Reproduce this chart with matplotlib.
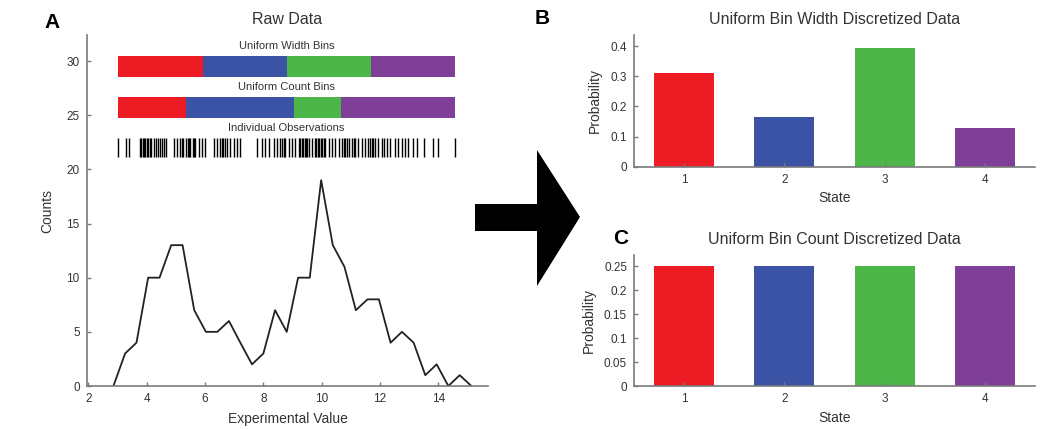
import matplotlib
matplotlib.use("Agg")
import matplotlib.pyplot as plt
from matplotlib.patches import Polygon, Rectangle

plt.rcParams['font.family'] = ['Liberation Sans', 'DejaVu Sans']

# histogram of the raw data (bin centres and counts)
bin_centers = [2.86, 3.26, 3.65, 4.05, 4.44, 4.84, 5.23, 5.63, 6.03, 6.42, 6.82,
               7.21, 7.61, 8.00, 8.40, 8.80, 9.19, 9.59, 9.98, 10.38, 10.78, 11.17,
               11.57, 11.96, 12.36, 12.75, 13.15, 13.55, 13.94, 14.34, 14.73, 15.13]
bin_counts = [0, 3, 4, 10, 10, 13, 13, 7, 5, 5, 6, 4, 2, 3, 7, 5, 10, 10, 19, 13,
              11, 7, 8, 8, 4, 5, 4, 1, 2, 0, 1, 0]

# individual observations
observations = [3.03, 3.28, 3.40, 3.78, 3.82, 3.86, 3.90, 3.95, 4.00, 4.05, 4.10,
                4.15, 4.25, 4.32, 4.38, 4.45, 4.52, 4.60, 4.66, 4.92, 5.03, 5.15,
                5.20, 5.26, 5.35, 5.40, 5.45, 5.49, 5.58, 5.63, 5.67, 5.78, 5.90,
                6.01, 6.30, 6.41, 6.50, 6.58, 6.63, 6.69, 6.75, 6.87, 6.99, 7.10,
                7.19, 7.78, 7.95, 8.07, 8.18, 8.36, 8.47, 8.58, 8.64, 8.70, 8.75,
                8.87, 8.98, 9.10, 9.21, 9.26, 9.31, 9.36, 9.42, 9.46, 9.50, 9.55,
                9.67, 9.78, 9.82, 9.87, 9.92, 9.97, 10.02, 10.07, 10.12, 10.24,
                10.35, 10.47, 10.58, 10.69, 10.75, 10.81, 10.86, 10.92, 11.03,
                11.09, 11.15, 11.26, 11.38, 11.49, 11.60, 11.66, 11.72, 11.77,
                11.83, 11.94, 12.06, 12.14, 12.23, 12.34, 12.51, 12.63, 12.74,
                12.86, 12.97, 13.14, 13.26, 13.49, 13.83, 14.00, 14.56]

# bin edges for the two discretisations
width_edges = [3.03, 5.92, 8.80, 11.69, 14.56]
count_edges = [3.03, 5.35, 9.05, 10.66, 14.56]

states = [1, 2, 3, 4]
prob_width = [0.31, 0.165, 0.395, 0.13]
prob_count = [0.25, 0.25, 0.25, 0.25]

state_colors = ['#ED1C24', '#3A53A4', '#4CB748', '#7F3F98']
spine_col = '#7a7a7a'
text_col = '#333333'


def style_axes(ax):
    for s in ['top', 'right']:
        ax.spines[s].set_visible(False)
    for s in ['left', 'bottom']:
        ax.spines[s].set_color(spine_col)
        ax.spines[s].set_linewidth(1.2)
    ax.tick_params(direction='in', length=3, width=1, color=spine_col,
                   labelcolor=text_col, labelsize=8.5, pad=5)


fig = plt.figure(figsize=(10.59, 4.30), dpi=100)

# ---- panel A ----
axA = fig.add_axes([0.0819, 0.1023, 0.3792, 0.8163])
axA.plot(bin_centers, bin_counts, color='#222222', lw=1.3)

# bin bars
for i in range(4):
    axA.add_patch(Rectangle((width_edges[i], 28.5), width_edges[i + 1] - width_edges[i],
                            1.95, color=state_colors[i], lw=0))
    axA.add_patch(Rectangle((count_edges[i], 24.75), count_edges[i + 1] - count_edges[i],
                            1.94, color=state_colors[i], lw=0))
axA.vlines(observations, 21.13, 22.88, color='black', lw=1)

mid = (width_edges[0] + width_edges[-1]) / 2
axA.text(mid, 31.36, 'Uniform Width Bins', ha='center', va='center', fontsize=8, color=text_col)
axA.text(mid, 27.58, 'Uniform Count Bins', ha='center', va='center', fontsize=8, color=text_col)
axA.text(mid, 23.83, 'Individual Observations', ha='center', va='center', fontsize=8, color=text_col)

axA.set_xlim(1.945, 15.71)
axA.set_ylim(0, 32.4)
axA.set_xticks([2, 4, 6, 8, 10, 12, 14])
axA.set_yticks([0, 5, 10, 15, 20, 25, 30])
style_axes(axA)
axA.set_title('Raw Data', fontsize=11.5, color=text_col, pad=8)
axA.set_xlabel('Experimental Value', fontsize=10, color=text_col, labelpad=5)
axA.set_ylabel('Counts', fontsize=10, color=text_col, labelpad=9)

# ---- panel B ----
axB = fig.add_axes([0.5987, 0.6123, 0.3786, 0.3063])
axB.bar(states, prob_width, width=0.6, color=state_colors)
axB.set_xlim(0.5, 4.5)
axB.set_ylim(0, 0.437)
axB.set_xticks(states)
axB.set_yticks([0, 0.1, 0.2, 0.3, 0.4])
axB.set_yticklabels(['0', '0.1', '0.2', '0.3', '0.4'])
style_axes(axB)
axB.set_title('Uniform Bin Width Discretized Data', fontsize=11.5, color=text_col, pad=8)
axB.set_xlabel('State', fontsize=10, color=text_col, labelpad=4)
axB.set_ylabel('Probability', fontsize=10, color=text_col, labelpad=6)

# ---- panel C ----
axC = fig.add_axes([0.5987, 0.1023, 0.3786, 0.3047])
axC.bar(states, prob_count, width=0.6, color=state_colors)
axC.set_xlim(0.5, 4.5)
axC.set_ylim(0, 0.273)
axC.set_xticks(states)
axC.set_yticks([0, 0.05, 0.1, 0.15, 0.2, 0.25])
axC.set_yticklabels(['0', '0.05', '0.1', '0.15', '0.2', '0.25'])
style_axes(axC)
axC.set_title('Uniform Bin Count Discretized Data', fontsize=11.5, color=text_col, pad=8)
axC.set_xlabel('State', fontsize=10, color=text_col, labelpad=4)
axC.set_ylabel('Probability', fontsize=10, color=text_col, labelpad=6)

# panel letters
fig.text(52 / 1059, 1 - 23 / 430, 'A', fontsize=15, fontweight='bold', ha='center', va='center')
fig.text(542 / 1059, 1 - 18 / 430, 'B', fontsize=15, fontweight='bold', ha='center', va='center')
fig.text(621 / 1059, 1 - 238 / 430, 'C', fontsize=15, fontweight='bold', ha='center', va='center')

# big arrow between panels
arrow_px = [(475, 204), (537, 204), (537, 150), (580, 217), (537, 286), (537, 231), (475, 231)]
arrow = Polygon([(x / 1059, 1 - y / 430) for x, y in arrow_px], closed=True,
                transform=fig.transFigure, color='black', lw=0)
fig.add_artist(arrow)

fig.savefig('out.png', dpi=100)
